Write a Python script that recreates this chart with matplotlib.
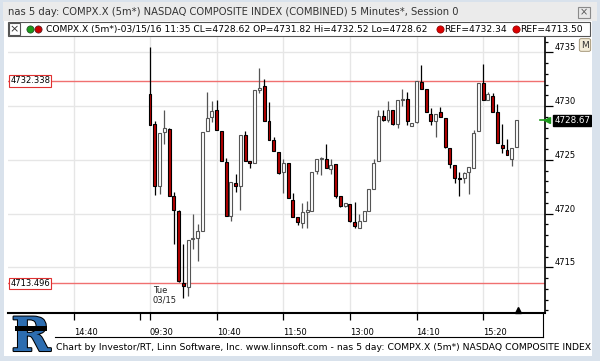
import matplotlib
matplotlib.use("Agg")
import matplotlib.pyplot as plt
from matplotlib.patches import Rectangle
from matplotlib.lines import Line2D
from matplotlib.transforms import blended_transform_factory
import matplotlib.patheffects as pe

# 5 minute bars of 03/15, from 09:30
opens = [4731.1, 4728.3, 4722.6, 4727.6, 4727.9, 4721.6, 4720.2, 4713.5, 4713.2, 4717.6,
         4717.7, 4718.4, 4727.7, 4729.0, 4729.6, 4727.7, 4724.8, 4719.8, 4722.8, 4722.6,
         4727.3, 4724.9, 4724.7, 4731.5, 4731.82, 4728.6, 4726.8, 4725.7, 4723.9, 4724.7,
         4721.3, 4719.7, 4719.1, 4720.1, 4720.2, 4724.0, 4725.1, 4725.1, 4724.1, 4724.6,
         4721.6, 4720.7, 4720.9, 4719.2, 4718.7, 4719.3, 4720.2, 4722.3, 4724.9, 4729.1,
         4728.7, 4729.6, 4728.3, 4730.55, 4730.7, 4728.1, 4728.5, 4732.2, 4731.6, 4729.3,
         4728.6, 4729.4, 4728.9, 4726.1, 4724.5, 4723.3, 4723.3, 4723.9, 4724.2, 4727.7,
         4732.1, 4730.6, 4730.9, 4729.4, 4726.4, 4725.9, 4725.1, 4726.2]
highs = [4735.5, 4728.6, 4727.5, 4729.6, 4728.0, 4722.0, 4720.3, 4717.2, 4717.5, 4720.0,
         4719.0, 4727.6, 4731.3, 4730.5, 4730.6, 4727.7, 4725.2, 4722.9, 4723.7, 4727.3,
         4727.7, 4724.9, 4731.5, 4733.5, 4732.52, 4730.4, 4727.1, 4725.7, 4725.1, 4724.7,
         4721.9, 4719.7, 4721.0, 4721.2, 4723.9, 4725.1, 4725.3, 4726.5, 4725.1, 4724.6,
         4721.6, 4721.0, 4720.9, 4721.1, 4720.0, 4720.2, 4722.3, 4725.1, 4729.6, 4729.6,
         4730.5, 4729.6, 4730.6, 4731.6, 4731.3, 4728.4, 4732.3, 4733.8, 4731.6, 4729.8,
         4729.3, 4729.9, 4728.9, 4726.1, 4724.5, 4723.9, 4723.9, 4724.3, 4727.8, 4732.1,
         4733.9, 4731.3, 4731.2, 4730.2, 4728.3, 4726.9, 4726.1, 4728.67]
lows = [4728.2, 4721.7, 4721.8, 4726.5, 4721.6, 4717.2, 4713.6, 4712.1, 4712.3, 4716.7,
        4715.6, 4718.4, 4727.7, 4728.5, 4727.8, 4724.9, 4719.8, 4719.3, 4722.0, 4720.3,
        4724.9, 4724.2, 4724.7, 4731.2, 4728.62, 4726.8, 4725.8, 4723.7, 4721.9, 4721.4,
        4719.7, 4718.9, 4718.7, 4718.7, 4720.2, 4723.7, 4723.6, 4724.2, 4723.7, 4721.4,
        4720.6, 4720.6, 4719.2, 4718.7, 4718.7, 4719.3, 4720.2, 4722.3, 4724.9, 4728.6,
        4728.5, 4728.2, 4728.0, 4730.0, 4728.2, 4728.1, 4728.4, 4731.6, 4729.4, 4728.2,
        4727.1, 4729.0, 4726.1, 4724.2, 4722.8, 4721.6, 4722.8, 4721.8, 4724.2, 4727.7,
        4730.6, 4730.6, 4729.4, 4726.6, 4725.6, 4725.4, 4724.4, 4726.2]
closes = [4728.2, 4722.6, 4727.5, 4728.0, 4721.6, 4720.3, 4713.7, 4713.3, 4717.5, 4717.7,
          4718.4, 4727.6, 4728.9, 4729.5, 4727.8, 4724.9, 4719.8, 4722.9, 4722.6, 4727.3,
          4724.9, 4724.7, 4731.5, 4731.7, 4728.62, 4726.8, 4725.8, 4723.8, 4724.7, 4721.4,
          4719.7, 4719.2, 4720.1, 4720.3, 4723.9, 4725.1, 4725.14, 4724.2, 4724.5, 4721.6,
          4720.7, 4720.95, 4719.3, 4718.8, 4719.3, 4720.2, 4722.3, 4724.7, 4729.1, 4728.7,
          4729.6, 4728.3, 4730.6, 4730.65, 4728.6, 4728.4, 4732.3, 4731.6, 4729.4, 4728.6,
          4729.3, 4729.0, 4726.2, 4724.6, 4723.3, 4723.25, 4723.8, 4724.3, 4727.5, 4732.1,
          4730.6, 4731.1, 4729.4, 4726.6, 4726.1, 4725.4, 4726.1, 4728.67]

time_ticks = [-16, -2, 0, 14, 28, 42, 56, 70]
time_labels = ["14:40", "", "09:30", "10:40", "11:50", "13:00", "14:10", "15:20"]
price_ticks = [4715, 4720, 4725, 4730, 4735]
ref_levels = [4732.338, 4713.496]
last_price = 4728.67

W, H = 600, 361
fig = plt.figure(figsize=(6, 3.61), dpi=100)
fig.patch.set_facecolor("#d9e2ec")
plt.rcParams["font.family"] = ["DejaVu Sans"]


def fx(px):
    return px / W


def fy(py):
    return 1 - py / H


def frect(x0, y0, x1, y1, **kw):
    r = Rectangle((fx(x0), fy(y1)), fx(x1) - fx(x0), fy(y0) - fy(y1),
                  transform=fig.transFigure, **kw)
    fig.add_artist(r)
    return r


def fline(x0, y0, x1, y1, **kw):
    fig.add_artist(Line2D([fx(x0), fx(x1)], [fy(y0), fy(y1)], transform=fig.transFigure, **kw))


def fdot(x, y, c, ec):
    fig.add_artist(Line2D([fx(x)], [fy(y)], marker="o", markersize=5.2, markerfacecolor=c,
                          markeredgecolor=ec, markeredgewidth=0.5, transform=fig.transFigure, zorder=4))


# window chrome
frect(3, 2, 597, 21, facecolor="#ebebeb", edgecolor="none", zorder=0)
frect(4, 21, 592, 356, facecolor="white", edgecolor="none", zorder=0)
frect(592, 21, 600, 361, facecolor="#d9e2ec", edgecolor="none", zorder=20)
fig.text(fx(8), fy(12), "nas 5 day: COMPX.X (5m*) NASDAQ COMPOSITE INDEX (COMBINED) 5 Minutes*, Session 0",
         fontsize=7.2, color="#333333", va="center", ha="left")
frect(578, 7, 590, 18, facecolor="#e8e8e8", edgecolor="#8a8a8a", lw=0.8, zorder=3)
fig.text(fx(584), fy(12.5), "×", fontsize=7, ha="center", va="center", color="#555555", zorder=4)

# legend strip
frect(8, 22, 590, 36, facecolor="white", edgecolor="#555555", lw=0.8, zorder=2)
frect(9, 23, 20, 35, facecolor="white", edgecolor="#555555", lw=0.8, zorder=3)
fig.text(fx(14.5), fy(29.2), "×", fontsize=8, ha="center", va="center", color="#333333", zorder=4)
fdot(30, 29, "#1a9a1a", "#224422")
fdot(37.5, 29, "#cc0000", "#442222")
fig.text(fx(46), fy(29.3), "COMPX.X (5m*)-03/15/16 11:35 CL=4728.62 OP=4731.82 Hi=4732.52 Lo=4728.62",
         fontsize=6.6, ha="left", va="center", color="black", zorder=4)
for cx, lab in [(440, "REF=4732.34"), (516, "REF=4713.50")]:
    fdot(cx, 29, "#dd0000", "#880000")
    fig.text(fx(cx + 4), fy(29.3), lab, fontsize=6.6, ha="left", va="center", color="black", zorder=4)

# price pane
ax = fig.add_axes([fx(8), fy(313), fx(545) - fx(8), fy(37) - fy(313)])
ax.set_facecolor("white")
ax.set_xlim(-29.83, 82.98)
ax.set_ylim(4710.75, 4736.42)

for t, lab in zip(time_ticks, time_labels):
    if lab:
        ax.axvline(t, color="#e6e6e6", lw=1, zorder=0)
ax.axvline(77.3, color="#e6e6e6", lw=1, zorder=0)
for p in price_ticks:
    ax.axhline(p, color="#e6e6e6", lw=1, zorder=0)
for lvl in ref_levels:
    ax.axhline(lvl, color="#f07070", lw=1, zorder=1)

for i in range(len(opens)):
    o, h, l, c = opens[i], highs[i], lows[i], closes[i]
    up = c >= o
    edge = "#555555" if up else "black"
    ax.vlines(i, l, h, color=edge, lw=0.9, zorder=2)
    bottom = min(o, c)
    height = max(abs(c - o), 0.08)
    ax.bar(i, height, bottom=bottom, width=0.62, color="white" if up else "#b30000",
           edgecolor=edge, linewidth=0.8, zorder=3)

ax.spines["left"].set_visible(False)
ax.spines["top"].set_visible(False)
ax.spines["right"].set_linewidth(1.2)
ax.spines["bottom"].set_linewidth(1.5)

ax.yaxis.tick_right()
ax.set_yticks(price_ticks)
ax.set_yticklabels([str(p) for p in price_ticks])
ax.set_yticks(list(range(4711, 4737)), minor=True)
ax.tick_params(axis="y", which="major", length=6, width=0.9, pad=1, labelsize=6)
ax.tick_params(axis="y", which="minor", length=2.5, width=0.9)
for lab in ax.get_yticklabels():
    lab.set_va("bottom")

ax.set_xticks(time_ticks)
ax.set_xticklabels(time_labels)
ax.tick_params(axis="x", length=5, width=0.9, pad=6, labelsize=6, direction="out")
for lab in ax.get_xticklabels():
    lab.set_ha("left")

# reference level tags on the left
for lvl in ref_levels:
    ax.text(0.004, lvl, f"{lvl:.3f}", transform=blended_transform_factory(ax.transAxes, ax.transData),
            fontsize=6, ha="left", va="center", zorder=5,
            bbox=dict(boxstyle="square,pad=0.15", facecolor="white", edgecolor="#e03030", lw=0.8))

# day marker
ax.text(0.6, 4711.55, "Tue\n03/15", fontsize=6, ha="left", va="bottom", linespacing=1.1, color="#222222")

# last price tag
bt = blended_transform_factory(ax.transAxes, ax.transData)
ax.text(1.017, last_price, f"{last_price:.2f}", transform=bt, fontsize=6.3, color="white",
        ha="left", va="center", clip_on=False, zorder=6,
        bbox=dict(boxstyle="square,pad=0.15", facecolor="black", edgecolor="black"))
ax.plot([1.003], [last_price], marker="<", color="#1a9a1a", markersize=5, transform=bt, clip_on=False, zorder=6)
ax.plot([0.99, 1.003], [last_price, last_price], color="#1a9a1a", lw=1.2, transform=bt, clip_on=False, zorder=6)

# current bar marker
ax.plot([77.3], [0.012], marker="^", color="black", markersize=4,
        transform=blended_transform_factory(ax.transData, ax.transAxes), clip_on=False)

# "M" button
fig.text(fx(585), fy(45), "M", fontsize=6.5, ha="center", va="center", color="#333333", zorder=5,
         bbox=dict(boxstyle="round,pad=0.2", facecolor="#f3ecd8", edgecolor="#9a8a6a", lw=0.6))

# time axis box
fline(55, 337, 543, 337, color="black", lw=0.8)
fline(543, 313, 543, 337, color="black", lw=0.8)

# logo and footer
fig.text(fx(31), fy(338), "R", fontsize=34, fontweight="bold", family="DejaVu Serif", color="#2d6db0",
         ha="center", va="center", path_effects=[pe.withStroke(linewidth=1.5, foreground="black")])
frect(15, 326, 47, 331, facecolor="black", edgecolor="none", zorder=5)
fig.text(fx(56), fy(348), "Chart by Investor/RT, Linn Software, Inc. www.linnsoft.com - nas 5 day: COMPX.X (5m*) NASDAQ COMPOSITE INDEX",
         fontsize=6.65, ha="left", va="center", color="black", zorder=4)

fig.savefig("out.png", dpi=100, facecolor=fig.get_facecolor())
